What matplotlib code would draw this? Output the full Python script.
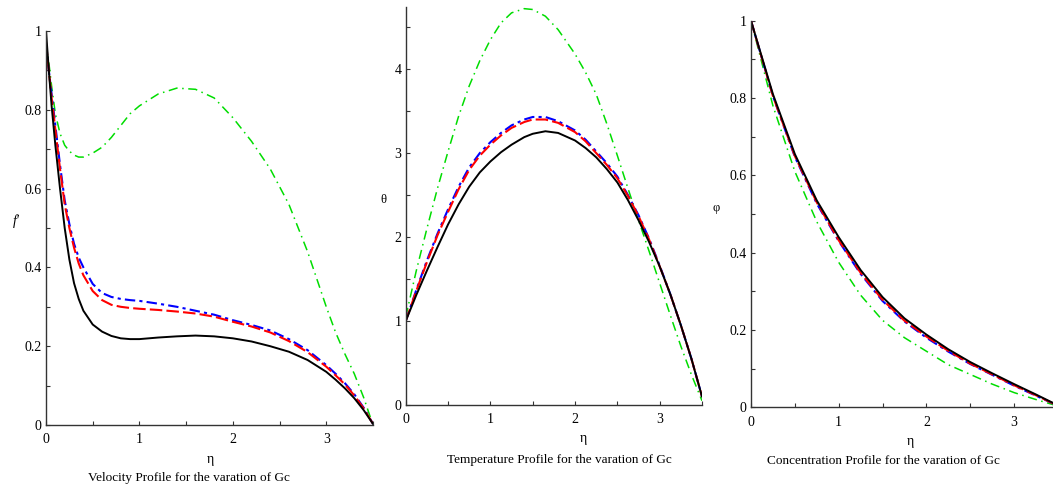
import matplotlib
matplotlib.use("Agg")
import matplotlib.pyplot as plt
from matplotlib.ticker import MultipleLocator

plt.rcParams['font.family'] = ['Liberation Serif', 'DejaVu Serif']

# ---- velocity profile f' ----
eta_v = [0, 0.03, 0.06, 0.1, 0.15, 0.2, 0.25, 0.3, 0.35, 0.4, 0.5, 0.6, 0.7, 0.8, 0.9, 1.0, 1.2, 1.4, 1.6, 1.8, 2.0,
         2.2, 2.4, 2.6, 2.8, 3.0, 3.1, 3.2, 3.3, 3.4, 3.5]
vel_black = [1.0, 0.9, 0.81, 0.71, 0.6, 0.5, 0.42, 0.36, 0.32, 0.29, 0.255, 0.237, 0.226, 0.22, 0.218, 0.218, 0.222,
             0.225, 0.227, 0.225, 0.22, 0.212, 0.2, 0.186, 0.165, 0.135, 0.115, 0.093, 0.068, 0.038, 0.003]
vel_red = [0.97, 0.9, 0.83, 0.75, 0.65, 0.56, 0.5, 0.45, 0.41, 0.38, 0.34, 0.317, 0.305, 0.3, 0.297, 0.295, 0.292,
           0.288, 0.283, 0.275, 0.262, 0.25, 0.235, 0.213, 0.185, 0.148, 0.126, 0.103, 0.075, 0.042, 0.003]
vel_blue = [0.97, 0.9, 0.84, 0.76, 0.66, 0.57, 0.51, 0.46, 0.425, 0.4, 0.358, 0.335, 0.325, 0.32, 0.317, 0.315, 0.308,
            0.3, 0.29, 0.28, 0.266, 0.254, 0.24, 0.218, 0.19, 0.152, 0.13, 0.106, 0.078, 0.044, 0.003]
vel_green = [0.97, 0.92, 0.86, 0.79, 0.74, 0.71, 0.695, 0.685, 0.68, 0.68, 0.69, 0.705, 0.73, 0.76, 0.79, 0.81, 0.84,
             0.855, 0.852, 0.83, 0.78, 0.72, 0.65, 0.56, 0.44, 0.3, 0.235, 0.18, 0.13, 0.07, 0.0]

# ---- temperature profile theta ----
eta_t = [0, 0.125, 0.25, 0.375, 0.5, 0.625, 0.75, 0.875, 1.0, 1.125, 1.25, 1.4, 1.5, 1.65, 1.8, 2.0, 2.125, 2.25,
         2.375, 2.5, 2.625, 2.75, 2.875, 3.0, 3.125, 3.25, 3.375, 3.5]
temp_black = [1.0, 1.31, 1.6, 1.88, 2.15, 2.39, 2.6, 2.77, 2.9, 3.01, 3.1, 3.19, 3.23, 3.26, 3.24, 3.15, 3.06, 2.95,
              2.81, 2.65, 2.44, 2.2, 1.94, 1.65, 1.32, 0.95, 0.55, 0.1]
temp_red = [1.0, 1.36, 1.7, 2.02, 2.3, 2.57, 2.8, 2.97, 3.1, 3.21, 3.3, 3.37, 3.4, 3.4, 3.36, 3.25, 3.14, 3.0, 2.86,
            2.7, 2.49, 2.25, 1.97, 1.65, 1.32, 0.95, 0.55, 0.1]
temp_blue = [1.0, 1.37, 1.72, 2.04, 2.33, 2.6, 2.83, 3.0, 3.13, 3.24, 3.33, 3.4, 3.43, 3.43, 3.38, 3.27, 3.16, 3.02,
             2.88, 2.72, 2.5, 2.26, 1.98, 1.66, 1.32, 0.95, 0.55, 0.1]
temp_green = [1.05, 1.6, 2.1, 2.58, 3.02, 3.44, 3.8, 4.1, 4.35, 4.55, 4.67, 4.72, 4.71, 4.63, 4.47, 4.18, 3.96, 3.7,
              3.35, 2.97, 2.58, 2.2, 1.83, 1.45, 1.07, 0.7, 0.36, 0.05]

# ---- concentration profile phi ----
eta_c = [0, 0.25, 0.5, 0.75, 1.0, 1.25, 1.5, 1.75, 2.0, 2.25, 2.5, 2.75, 3.0, 3.25, 3.5]
conc_black = [1.0, 0.81, 0.655, 0.535, 0.44, 0.355, 0.285, 0.23, 0.188, 0.15, 0.117, 0.088, 0.06, 0.033, 0.005]
conc_red = [1.0, 0.805, 0.65, 0.53, 0.432, 0.348, 0.278, 0.224, 0.183, 0.146, 0.113, 0.085, 0.057, 0.031, 0.004]
conc_blue = [1.0, 0.805, 0.648, 0.527, 0.43, 0.345, 0.275, 0.222, 0.18, 0.144, 0.112, 0.084, 0.056, 0.03, 0.004]
conc_green = [1.0, 0.78, 0.61, 0.48, 0.375, 0.29, 0.225, 0.18, 0.145, 0.11, 0.085, 0.06, 0.038, 0.02, 0.003]

styles = [
    dict(color='#00dd00', ls=(0, (6, 3, 1, 3)), lw=1.1),
    dict(color='blue', ls=(0, (5, 2, 1.5, 2)), lw=1.5),
    dict(color='red', ls=(0, (6, 2)), lw=1.5),
    dict(color='black', ls='-', lw=1.4),
]

fig = plt.figure(figsize=(10.53, 4.95), dpi=100)


def fmt(v, p):
    if abs(v) < 1e-9:
        return '0'
    if abs(v - round(v)) < 1e-9:
        return str(int(round(v)))
    return f'{v:.1f}'


def style_axes(ax, ymajor, yminor):
    for s in ['top', 'right']:
        ax.spines[s].set_visible(False)
    for s in ['left', 'bottom']:
        ax.spines[s].set_linewidth(1.0)
        ax.spines[s].set_color('#333333')
    ax.xaxis.set_major_locator(MultipleLocator(1))
    ax.xaxis.set_minor_locator(MultipleLocator(0.5))
    ax.yaxis.set_major_locator(MultipleLocator(ymajor))
    ax.yaxis.set_minor_locator(MultipleLocator(yminor))
    ax.yaxis.set_major_formatter(plt.FuncFormatter(fmt))
    ax.xaxis.set_major_formatter(plt.FuncFormatter(fmt))
    ax.tick_params(which='both', direction='in', length=3, width=0.8, color='#333333', labelsize=10, pad=3)
    ax.tick_params(axis='x', pad=6)


# panel 1
ax1 = fig.add_axes([0.0437, 0.1414, 0.3105, 0.796])
for y, st in zip([vel_green, vel_blue, vel_red, vel_black], styles):
    ax1.plot(eta_v, y, **st)
ax1.set_xlim(0, 3.5)
ax1.set_ylim(0, 1)
style_axes(ax1, 0.2, 0.1)
ax1.set_ylabel("f'", fontsize=10, rotation=0, labelpad=6, style='italic')
fig.text(0.2, 0.065, 'η', ha='center', fontsize=10)
fig.text(0.179, 0.028, 'Velocity Profile for the varation of Gc', ha='center', fontsize=9.5)

# panel 2
ax2 = fig.add_axes([0.3853, 0.1818, 0.2814, 0.8041])
for y, st in zip([temp_green, temp_blue, temp_red, temp_black], styles):
    ax2.plot(eta_t, y, **st)
ax2.set_xlim(0, 3.5)
ax2.set_ylim(0, 4.74)
style_axes(ax2, 1, 0.5)
ax2.set_ylabel('θ', fontsize=9, rotation=0, labelpad=8)
fig.text(0.554, 0.107, 'η', ha='center', fontsize=10)
fig.text(0.531, 0.065, 'Temperature Profile for the varation of Gc', ha='center', fontsize=9.5)

# panel 3
ax3 = fig.add_axes([0.7132, 0.1772, 0.2915, 0.781])
for y, st in zip([conc_green, conc_blue, conc_red, conc_black], styles):
    ax3.plot(eta_c, y, **st)
ax3.set_xlim(0, 3.5)
ax3.set_ylim(0, 1)
style_axes(ax3, 0.2, 0.1)
ax3.set_ylabel('φ', fontsize=9, rotation=0, labelpad=10)
fig.text(0.865, 0.1, 'η', ha='center', fontsize=10)
fig.text(0.839, 0.063, 'Concentration Profile for the varation of Gc', ha='center', fontsize=9.5)

fig.savefig('out.png', dpi=100)
